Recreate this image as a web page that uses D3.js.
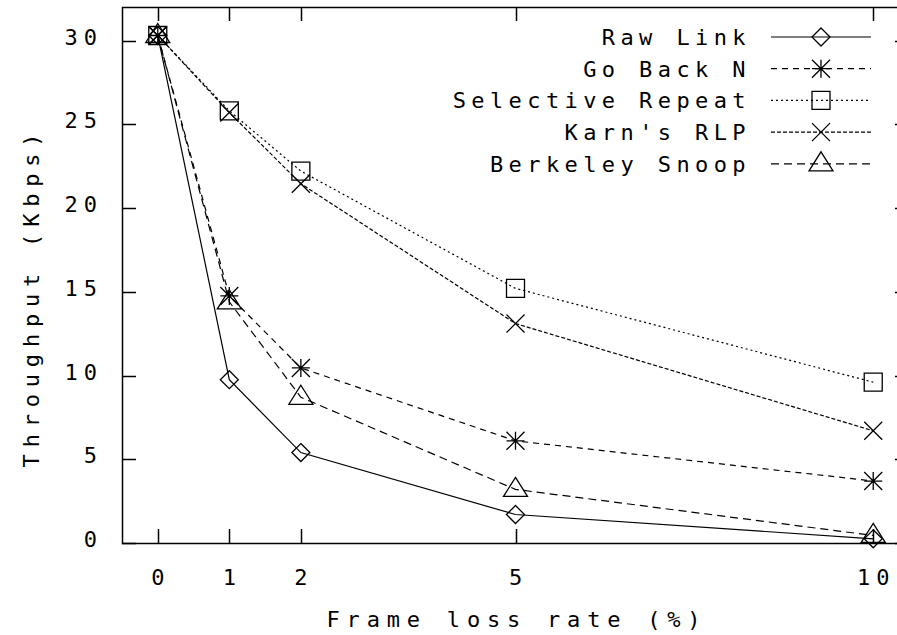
<!DOCTYPE html>
<html>
<head>
<meta charset="utf-8">
<script src="https://cdn.jsdelivr.net/npm/d3@7"></script>
<style>
  body { margin: 0; background: #fff; }
  svg { display: block; }
  text { font-family: "DejaVu Sans Mono", "Liberation Mono", monospace; font-size: 22px; fill: #000; letter-spacing: 6px; }
  text.key { letter-spacing: 5.4px; }
  text.title { letter-spacing: 6.8px; }
</style>
</head>
<body>
<div id="chart"></div>
<script>
const lossRates = [0, 1, 2, 5, 10];
const xTicks = [0, 1, 2, 5, 10];
const yTicks = [0, 5, 10, 15, 20, 25, 30];

const seriesNames = ['Raw Link', 'Go Back N', 'Selective Repeat', "Karn's RLP", 'Berkeley Snoop'];
const rawLink = [30.3, 9.75, 5.4, 1.7, 0.25];
const goBackN = [30.3, 14.75, 10.45, 6.1, 3.7];
const selectiveRepeat = [30.3, 25.8, 22.2, 15.2, 9.6];
const karnsRlp = [30.3, 25.7, 21.45, 13.1, 6.7];
const berkeleySnoop = [30.3, 14.4, 8.7, 3.2, 0.45];

const seriesValues = [rawLink, goBackN, selectiveRepeat, karnsRlp, berkeleySnoop];
const dashes = [null, '6,5', '2,3', '4,2', '8,5'];
const symbols = ['diamond', 'asterisk', 'square', 'cross', 'triangle'];

const width = 897, height = 635;
const margin = { left: 122, top: 7, right: 909, bottom: 543 };

const svg = d3.select('#chart').append('svg')
    .attr('width', width)
    .attr('height', height);

const x = d3.scaleLinear().domain([-0.5, 10.5]).range([margin.left, margin.right]);
const y = d3.scaleLinear().domain([0, 32]).range([margin.bottom, margin.top]);

// frame
svg.append('rect')
    .attr('x', margin.left + 0.5)
    .attr('y', margin.top + 0.5)
    .attr('width', margin.right - margin.left)
    .attr('height', margin.bottom - margin.top)
    .attr('fill', 'none')
    .attr('stroke', '#000')
    .attr('stroke-width', 1.5);

// ticks on all four sides, like gnuplot
const tickLen = 14;
const ticks = svg.append('g').attr('stroke', '#000').attr('stroke-width', 1.5);
xTicks.forEach(t => {
    const px = Math.round(x(t)) + 0.5;
    ticks.append('line').attr('x1', px).attr('x2', px).attr('y1', margin.bottom).attr('y2', margin.bottom - tickLen);
    ticks.append('line').attr('x1', px).attr('x2', px).attr('y1', margin.top).attr('y2', margin.top + tickLen);
});
yTicks.forEach(t => {
    const py = Math.round(y(t)) + 0.5;
    ticks.append('line').attr('y1', py).attr('y2', py).attr('x1', margin.left).attr('x2', margin.left + tickLen);
    ticks.append('line').attr('y1', py).attr('y2', py).attr('x1', margin.right).attr('x2', margin.right - tickLen);
});

// tick labels
svg.append('g').selectAll('text')
    .data(xTicks)
    .join('text')
    .attr('x', d => x(d) + 3)
    .attr('y', 585)
    .attr('text-anchor', 'middle')
    .text(d => d);

svg.append('g').selectAll('text')
    .data(yTicks)
    .join('text')
    .attr('x', 103)
    .attr('y', d => y(d) + 4)
    .attr('text-anchor', 'end')
    .text(d => d);

// axis titles
svg.append('text')
    .attr('class', 'title')
    .attr('x', 517)
    .attr('y', 627)
    .attr('text-anchor', 'middle')
    .text('Frame loss rate (%)');

svg.append('text')
    .attr('class', 'title')
    .attr('transform', 'translate(39,297) rotate(-90)')
    .attr('text-anchor', 'middle')
    .text('Throughput (Kbps)');

function drawSymbol(g, type, cx, cy) {
    const s = 9;
    const p = g.append('path')
        .attr('fill', 'none')
        .attr('stroke', '#000')
        .attr('stroke-width', 1.3);
    let d;
    if (type === 'diamond') {
        d = `M${cx},${cy - s}L${cx + s},${cy}L${cx},${cy + s}L${cx - s},${cy}Z`;
    } else if (type === 'square') {
        d = `M${cx - s},${cy - s}H${cx + s}V${cy + s}H${cx - s}Z`;
    } else if (type === 'cross') {
        d = `M${cx - s},${cy - s}L${cx + s},${cy + s}M${cx + s},${cy - s}L${cx - s},${cy + s}`;
    } else if (type === 'asterisk') {
        d = `M${cx - s},${cy - s}L${cx + s},${cy + s}M${cx + s},${cy - s}L${cx - s},${cy + s}` +
            `M${cx},${cy - s}V${cy + s}M${cx - s},${cy}H${cx + s}`;
    } else if (type === 'triangle') {
        d = `M${cx},${cy - 12}L${cx + 12},${cy + 7}L${cx - 12},${cy + 7}Z`;
    }
    p.attr('d', d);
}

const line = d3.line()
    .x((d, i) => x(lossRates[i]))
    .y(d => y(d));

const plot = svg.append('g');
seriesValues.forEach((values, k) => {
    plot.append('path')
        .datum(values)
        .attr('d', line)
        .attr('fill', 'none')
        .attr('stroke', '#000')
        .attr('stroke-width', 1.2)
        .attr('stroke-dasharray', dashes[k]);
    values.forEach((v, i) => drawSymbol(plot, symbols[k], x(lossRates[i]), y(v)));
});

// legend
const legend = svg.append('g');
seriesNames.forEach((name, k) => {
    const cy = 37 + k * 31.7;
    legend.append('text')
        .attr('class', 'key')
        .attr('x', 751)
        .attr('y', cy + 8)
        .attr('text-anchor', 'end')
        .text(name);
    legend.append('line')
        .attr('x1', 771).attr('x2', 871)
        .attr('y1', cy).attr('y2', cy)
        .attr('stroke', '#000')
        .attr('stroke-width', 1.2)
        .attr('stroke-dasharray', dashes[k]);
    drawSymbol(legend, symbols[k], 821, cy);
});
</script>
</body>
</html>
